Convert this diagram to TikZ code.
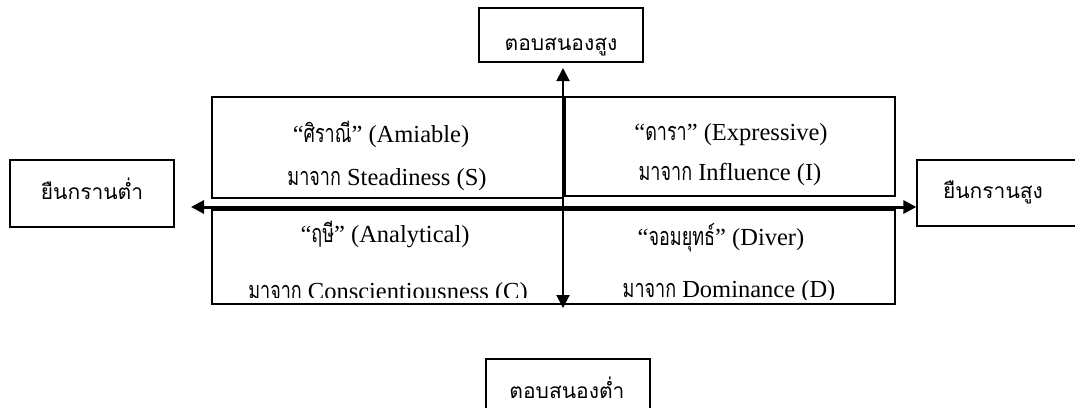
\documentclass[tikz,border=0pt]{standalone}
\usepackage{fontspec}
\setmainfont{Liberation Serif}
\newfontfamily\thaifont[Script=Thai]{Loma}
\usetikzlibrary{arrows.meta}
\newcommand\thq[1]{\scalebox{0.8}[1.12]{\fontsize{22.5}{26}\thaifont #1}}
\begin{document}
\begin{tikzpicture}[x=1pt,y=-1pt,
  frame/.style={draw, line width=1.3pt, inner sep=0pt},
  sidetxt/.style={inner sep=0pt, anchor=base, font=\fontsize{21}{24}\thaifont},
  qtxt/.style={inner sep=0pt, anchor=base, font=\fontsize{24.5}{28}\selectfont},
  axis/.style={draw, line width=#1, {Triangle[length=13pt,width=13pt]}-{Triangle[length=13pt,width=13pt]}}
]
\useasboundingbox (0,0) rectangle (1075,407);
% side boxes
\node[frame, minimum width=164pt, minimum height=54pt] (top) at (561,35) {};
\node[frame, minimum width=164pt, minimum height=51pt] (bot) at (568,384.5) {};
\node[frame, minimum width=164pt, minimum height=67pt] (lft) at (92,193.5) {};
\node[frame, minimum width=160pt, minimum height=66pt] (rgt) at (997,193) {};
\node[sidetxt] (topt) at (561,50) {ตอบสนองสูง};
\node[sidetxt] (bott) at (567,398) {ตอบสนองต่ำ};
\node[sidetxt] (lftt) at (92,199) {ยืนกรานต่ำ};
\node[sidetxt] (rgtt) at (993,198) {ยืนกรานสูง};
% quadrant boxes
\node[frame, minimum width=351pt, minimum height=101pt] (tl) at (387.5,147.5) {};
\node[frame, minimum width=330pt, minimum height=99pt] (tr) at (730,146.5) {};
\node[frame, minimum width=351pt, minimum height=94pt] (bl) at (387.5,257) {};
\node[frame, minimum width=332pt, minimum height=94pt] (br) at (729,257) {};
\node[qtxt] (tl1) at (381,142) {“\thq{ศิราณี}” (Amiable)};
\node[qtxt] (tl2) at (387,185) {\thq{มาจาก} Steadiness (S)};
\node[qtxt] (tr1) at (731,140) {“\thq{ดารา}” (Expressive)};
\node[qtxt] (tr2) at (730,180) {\thq{มาจาก} Influence (I)};
\node[qtxt] (bl1) at (385,242) {“\thq{ฤษี}” (Analytical)};
\node[qtxt] (br1) at (721,245) {“\thq{จอมยุทธ์}” (Diver)};
\begin{scope}
\clip (bl.north west) rectangle ([yshift=7pt]bl.south east);
\node[qtxt] (bl2) at (388,299) {\thq{มาจาก} Conscientiousness (C)};
\end{scope}
\begin{scope}
\clip (br.north west) rectangle ([yshift=5.5pt]br.south east);
\node[qtxt] (br2) at (729,297) {\thq{มาจาก} Dominance (D)};
\end{scope}
% axes
\coordinate (hW) at (191,207);
\coordinate (hE) at (rgt.west |- hW);
\coordinate (vN) at (563,68);
\coordinate (vS) at (563,308);
\path[axis=3pt] (hW) -- (hE);
\path[axis=2pt] (vN) -- (vS);
\end{tikzpicture}
\end{document}
